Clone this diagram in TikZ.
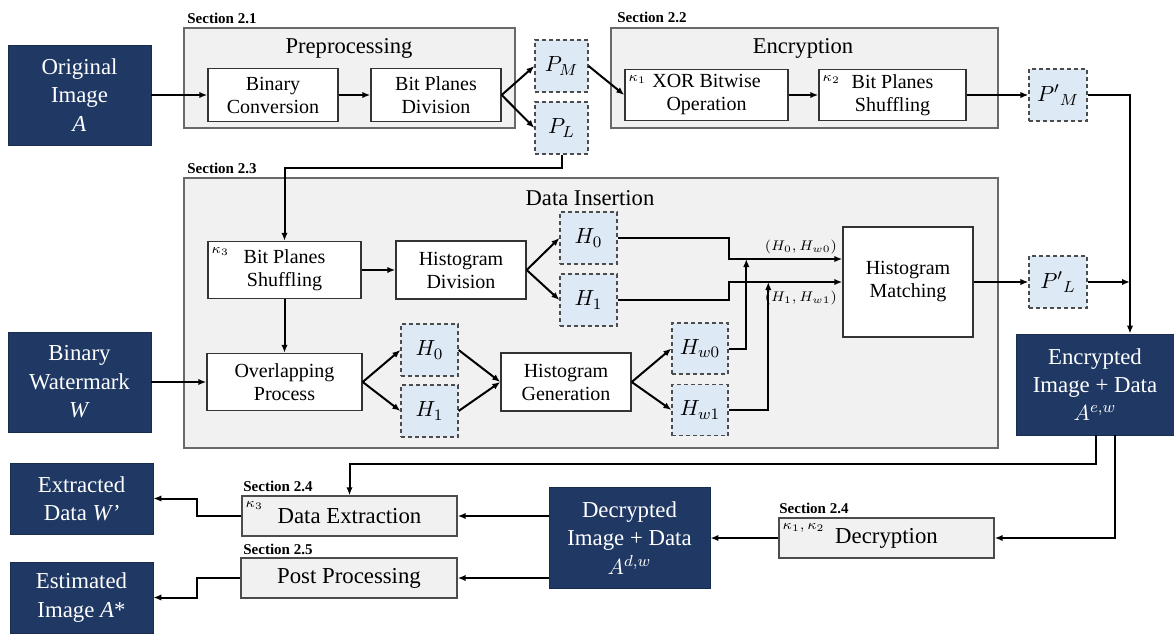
\documentclass[tikz,border=0pt]{standalone}
\usepackage{fontspec}
\setmainfont{Liberation Serif}
\usetikzlibrary{arrows.meta,positioning}
\definecolor{imgblue}{RGB}{31,56,100}
\definecolor{panelgray}{RGB}{241,241,241}
\definecolor{edgegray}{RGB}{105,105,105}
\definecolor{planeblue}{RGB}{222,233,246}

\begin{document}
\begin{tikzpicture}[x=0.5pt,y=-0.5pt,
  every node/.style={inner sep=0pt},
  arr/.style={->,>={Latex[length=4pt,width=3.2pt]},line width=1pt},
  panel/.style={draw=edgegray,fill=panelgray,line width=0.8pt},
  procbox/.style={draw=black!80,fill=white,line width=0.7pt,align=center,font=\fontsize{10}{11.5}\selectfont},
  lowbox/.style={draw=black!70,fill=panelgray,line width=0.7pt,align=center,font=\fontsize{11.4}{13}\selectfont},
  imgbox/.style={draw=imgblue!80!black,fill=imgblue,text=white,align=center,font=\fontsize{11.4}{14.2}\selectfont},
  plane/.style={draw=black!70,dash pattern=on 2pt off 1.5pt,fill=planeblue,line width=0.6pt,font=\fontsize{11}{13}\selectfont},
  title/.style={font=\fontsize{11.3}{13}\selectfont},
  sect/.style={anchor=west,font=\fontsize{7.5}{9}\selectfont\bfseries},
  key/.style={anchor=north west,inner sep=2pt,yshift=-1pt,font=\fontsize{7.5}{8}\selectfont},
  pair/.style={font=\fontsize{7.5}{8}\selectfont}]
\useasboundingbox (0,0) rectangle (1174,633);

\node[imgbox,minimum width=71.5pt,minimum height=50pt] (orig) at (79.5,95) {Original\\Image\\\textit{A}};
\node[imgbox,minimum width=71.5pt,minimum height=50pt] (wmk) at (79.5,382) {Binary\\Watermark\\\textit{W}};

% preprocessing
\node[panel,minimum width=165.5pt,minimum height=50pt] (prep) at (349.5,78) {};
\node[title] (preptitle) at (349,48) {Preprocessing};
\node[sect] (s21) at (187,18) {Section 2.1};
\node[procbox,minimum width=65pt,minimum height=26.5pt] (binc) at (273,95) {Binary\\Conversion};
\node[procbox,minimum width=65pt,minimum height=26.5pt] (bpd) at (436,95) {Bit Planes\\Division};
\node[plane,minimum width=26.5pt,minimum height=26pt] (pm) at (561.5,66) {$P_M$};
\node[plane,minimum width=26.5pt,minimum height=26pt] (pl) at (561.5,128) {$P_L$};

% encryption
\node[panel,minimum width=193.5pt,minimum height=50pt] (encr) at (804.5,78) {};
\node[title] (encrtitle) at (803,48) {Encryption};
\node[sect] (s22) at (617,17) {Section 2.2};
\node[procbox,minimum width=81.5pt,minimum height=25.5pt] (xor) at (706.5,95) {XOR Bitwise\\Operation};
\node[key] (kxor) at (xor.north west) {$\kappa_1$};
\node[procbox,minimum width=73.5pt,minimum height=25.5pt] (bpsa) at (892.5,95) {Bit Planes\\Shuffling};
\node[key] (kbpsa) at (bpsa.north west) {$\kappa_2$};
\node[plane,minimum width=29pt,minimum height=26pt] (pmp) at (1058,95) {$P'{}_M$};

% data insertion
\node[panel,minimum width=407pt,minimum height=135pt] (ins) at (591,313) {};
\node[title] (institle) at (590,198) {Data Insertion};
\node[sect] (s23) at (187,168) {Section 2.3};
\node[procbox,minimum width=76.5pt,minimum height=28.5pt] (bpsb) at (284.5,270) {Bit Planes\\Shuffling};
\node[key] (kbpsb) at (bpsb.north west) {$\kappa_3$};
\node[procbox,minimum width=65pt,minimum height=29pt] (hdiv) at (461,270) {Histogram\\Division};
\node[plane,minimum width=28.5pt,minimum height=26pt] (hza) at (588.5,238) {$H_0$};
\node[plane,minimum width=28.5pt,minimum height=26pt] (hoa) at (588.5,300) {$H_1$};
\node[procbox,minimum width=77.5pt,minimum height=28.5pt] (ovl) at (284.5,382) {Overlapping\\Process};
\node[plane,minimum width=28.5pt,minimum height=26pt] (hzb) at (429.5,350) {$H_0$};
\node[plane,minimum width=28.5pt,minimum height=26pt] (hob) at (429.5,411) {$H_1$};
\node[procbox,minimum width=65pt,minimum height=29pt] (hgen) at (566,382) {Histogram\\Generation};
\node[plane,minimum width=28pt,minimum height=25.5pt] (hwz) at (700,348.5) {$H_{w0}$};
\node[plane,minimum width=28pt,minimum height=25.5pt] (hwo) at (700,410) {$H_{w1}$};
\node[procbox,minimum width=65pt,minimum height=55pt] (hmat) at (908,282) {Histogram\\Matching};
\node[plane,minimum width=29pt,minimum height=26pt] (plp) at (1058,282) {$P'{}_L$};

\node[imgbox,minimum width=79pt,minimum height=50.5pt] (encd) at (1095,384.5) {Encrypted\\Image + Data\\$A^{e,w}$};

% decryption and extraction
\node[lowbox,minimum width=107.5pt,minimum height=20pt] (decr) at (886.5,538) {Decryption};
\node[key] (kdecr) at (decr.north west) {$\kappa_1,\kappa_2$};
\node[sect] (s24b) at (779,508) {Section 2.4};
\node[imgbox,minimum width=80.5pt,minimum height=50.5pt] (decd) at (629.5,538) {Decrypted\\Image + Data\\$A^{d,w}$};
\node[lowbox,minimum width=107.5pt,minimum height=20pt] (dext) at (349.5,516) {Data Extraction};
\node[key] (kdext) at (dext.north west) {$\kappa_3$};
\node[sect] (s24a) at (243,486) {Section 2.4};
\node[lowbox,minimum width=108pt,minimum height=20pt] (post) at (349,578) {Post Processing};
\node[sect] (s25) at (243,549) {Section 2.5};
\node[imgbox,minimum width=71.5pt,minimum height=35.5pt] (extr) at (81.5,498.5) {Extracted\\Data \textit{W'}};
\node[imgbox,minimum width=71.5pt,minimum height=35.5pt] (esti) at (81.5,597.5) {Estimated\\Image \textit{A}*};

\draw[arr] (orig) -- (binc);
\draw[arr] (binc) -- (bpd);
\draw[arr] (bpd.east) -- (pm.west);
\draw[arr] (bpd.east) -- (pl.west);
\draw[arr] (pm.east) -- (xor.west);
\draw[arr] (xor) -- (bpsa);
\draw[arr] (bpsa) -- (pmp);
\coordinate (bus) at (1130,95);
\draw[arr] (pmp.east) -| (bus |- encd.north);
\draw[arr] (plp.east) -- (bus |- plp.east);

\draw[arr] (pl.south) -- ++(0,13) -| (bpsb.north);
\draw[arr] (bpsb) -- (hdiv);
\draw[arr] (bpsb) -- (ovl);
\draw[arr] (wmk) -- (ovl);
\draw[arr] (hdiv.east) -- (hza.west);
\draw[arr] (hdiv.east) -- (hoa.west);
\draw[arr] (ovl.east) -- (hzb.west);
\draw[arr] (ovl.east) -- (hob.west);
\draw[arr] (hzb.east) -- (hgen.west);
\draw[arr] (hob.east) -- (hgen.west);
\draw[arr] (hgen.east) -- (hwz.west);
\draw[arr] (hgen.east) -- (hwo.west);
\coordinate (mz) at ([yshift=11.5pt]hmat.west);
\draw[arr] (hza.east) -- ++(111,0) |- (mz);
\draw[arr] (hoa.east) -- ++(111,0) |- (hmat.west);
\draw[arr] (hwz.east) -| ([xshift=-48pt]mz);
\draw[arr] (hwo.east) -| ([xshift=-37pt]hmat.west);
\node[pair,anchor=south east] (lz) at ([xshift=-2.5pt,yshift=2.5pt]mz) {$(H_0,H_{w0})$};
\node[pair,anchor=north east] (lo) at ([xshift=-2.5pt,yshift=-4.5pt]hmat.west) {$(H_1,H_{w1})$};
\draw[arr] (hmat) -- (plp);

\draw[arr] ([xshift=0.5pt]encd.south) -- ++(0,29) -| (dext.north);
\draw[arr] ([xshift=10pt]encd.south) |- (decr.east);
\draw[arr] (decr) -- (decd);
\draw[arr] (decd.west |- dext) -- (dext.east);
\draw[arr] (decd.west |- post) -- (post.east);
\draw[arr] (dext.west) -- ++(-44,0) |- (extr.east);
\draw[arr] (post.west) -- ++(-43,0) |- (esti.east);
\end{tikzpicture}
\end{document}
